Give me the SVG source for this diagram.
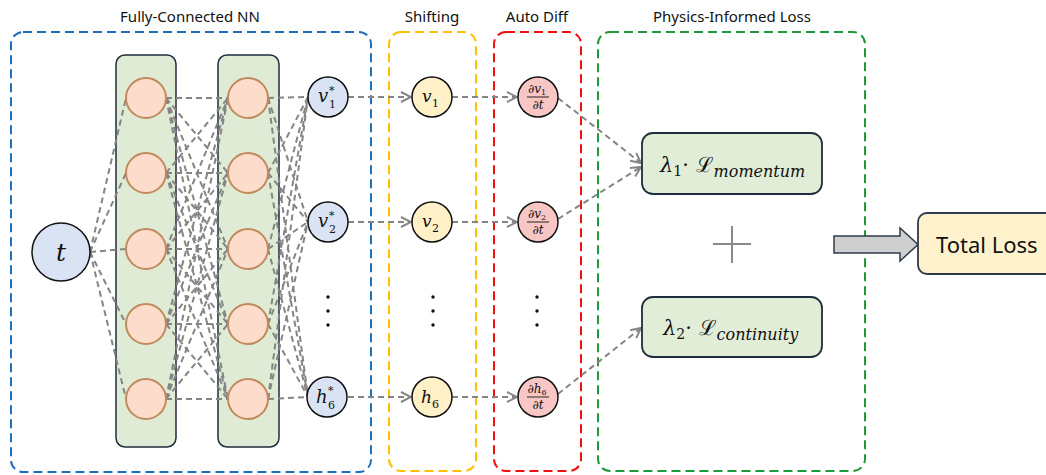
<svg xmlns="http://www.w3.org/2000/svg" width="1046" height="475" viewBox="0 0 1046 475">
<style>
.title{font-family:"Noto Sans","Open Sans",sans-serif;font-size:15px;fill:#111;text-anchor:middle}
.grp{fill:none;stroke-width:2;stroke-dasharray:9 5}
.col{fill:#E0EBD5;stroke:#1F2D3D;stroke-width:1.5}
.neu{fill:#FDDCCB;stroke:#C08A5C;stroke-width:2}
.bn{fill:#DAE3F3;stroke:#111;stroke-width:1.5}
.yn{fill:#FFF0C8;stroke:#111;stroke-width:1.5}
.pn{fill:#F8C6C4;stroke:#111;stroke-width:1.5}
.m{font-family:"DejaVu Serif","Liberation Serif",serif;font-style:italic;fill:#111}
.n{font-family:"DejaVu Serif","Liberation Serif",serif;font-style:normal;fill:#111}
.c line{stroke:#858585;stroke-width:2;stroke-dasharray:6 4;fill:none}
.a line{marker-end:url(#ah)}
.dot{fill:#111}
.lb{fill:#E2EDD8;stroke:#1F2D3D;stroke-width:1.8}
</style>
<defs>
<marker id="ah" viewBox="0 0 12 12" refX="11" refY="6" markerWidth="12" markerHeight="12" markerUnits="userSpaceOnUse" orient="auto">
<path d="M1,1 L11,6 L1,11" fill="none" stroke="#858585" stroke-width="2" stroke-dasharray="none"/>
</marker>
</defs>

<g id="group-fc">
<rect class="grp" x="11" y="32" width="360" height="440" rx="12" stroke="#1F6FBF"/>
<text class="title" x="190" y="22">Fully-Connected NN</text>
</g>
<g id="group-shift">
<rect class="grp" x="389" y="32" width="87" height="439" rx="12" stroke="#FFC000"/>
<text class="title" x="432" y="22">Shifting</text>
</g>
<g id="group-diff">
<rect class="grp" x="494" y="32" width="87" height="439" rx="12" stroke="#F01010"/>
<text class="title" x="537" y="22">Auto Diff</text>
</g>
<g id="group-loss">
<rect class="grp" x="598" y="32" width="267" height="439" rx="12" stroke="#1E9A3A"/>
<text class="title" x="732" y="22">Physics-Informed Loss</text>
</g>

<g id="layer1"><rect class="col" x="116" y="55" width="60" height="392" rx="9"/></g>
<g id="layer2"><rect class="col" x="218" y="55" width="61" height="392" rx="9"/></g>

<g id="connectors" class="c">
<g id="fc-lines">
<line x1="90" y1="252" x2="126" y2="98"/>
<line x1="90" y1="252" x2="126" y2="173"/>
<line x1="90" y1="252" x2="126" y2="249"/>
<line x1="90" y1="252" x2="126" y2="324"/>
<line x1="90" y1="252" x2="126" y2="399"/>

<line x1="166" y1="98" x2="228" y2="98"/>
<line x1="166" y1="98" x2="228" y2="173"/>
<line x1="166" y1="98" x2="228" y2="249"/>
<line x1="166" y1="98" x2="228" y2="324"/>
<line x1="166" y1="98" x2="228" y2="399"/>
<line x1="166" y1="173" x2="228" y2="98"/>
<line x1="166" y1="173" x2="228" y2="173"/>
<line x1="166" y1="173" x2="228" y2="249"/>
<line x1="166" y1="173" x2="228" y2="324"/>
<line x1="166" y1="173" x2="228" y2="399"/>
<line x1="166" y1="249" x2="228" y2="98"/>
<line x1="166" y1="249" x2="228" y2="173"/>
<line x1="166" y1="249" x2="228" y2="249"/>
<line x1="166" y1="249" x2="228" y2="324"/>
<line x1="166" y1="249" x2="228" y2="399"/>
<line x1="166" y1="324" x2="228" y2="98"/>
<line x1="166" y1="324" x2="228" y2="173"/>
<line x1="166" y1="324" x2="228" y2="249"/>
<line x1="166" y1="324" x2="228" y2="324"/>
<line x1="166" y1="324" x2="228" y2="399"/>
<line x1="166" y1="399" x2="228" y2="98"/>
<line x1="166" y1="399" x2="228" y2="173"/>
<line x1="166" y1="399" x2="228" y2="249"/>
<line x1="166" y1="399" x2="228" y2="324"/>
<line x1="166" y1="399" x2="228" y2="399"/>

<line x1="268" y1="98" x2="308" y2="97"/>
<line x1="268" y1="98" x2="308" y2="222"/>
<line x1="268" y1="98" x2="308" y2="397"/>
<line x1="268" y1="173" x2="308" y2="97"/>
<line x1="268" y1="173" x2="308" y2="222"/>
<line x1="268" y1="173" x2="308" y2="397"/>
<line x1="268" y1="249" x2="308" y2="97"/>
<line x1="268" y1="249" x2="308" y2="222"/>
<line x1="268" y1="249" x2="308" y2="397"/>
<line x1="268" y1="324" x2="308" y2="97"/>
<line x1="268" y1="324" x2="308" y2="222"/>
<line x1="268" y1="324" x2="308" y2="397"/>
<line x1="268" y1="399" x2="308" y2="97"/>
<line x1="268" y1="399" x2="308" y2="222"/>
<line x1="268" y1="399" x2="308" y2="397"/>
</g>
<g id="flow-arrows" class="a">
<line x1="348" y1="97" x2="411" y2="97"/>
<line x1="348" y1="222" x2="411" y2="222"/>
<line x1="348" y1="397" x2="411" y2="397"/>
<line x1="452" y1="97" x2="517" y2="97"/>
<line x1="452" y1="222" x2="517" y2="222"/>
<line x1="452" y1="397" x2="517" y2="397"/>
<line x1="558" y1="98" x2="641" y2="163"/>
<line x1="558" y1="219" x2="641" y2="167"/>
<line x1="558" y1="394" x2="641" y2="328"/>
</g>
</g>

<g id="node-t">
<circle class="bn" cx="61" cy="252" r="29"/>
<text class="m" x="61" y="261" font-size="25" text-anchor="middle">t</text>
</g>

<g id="neurons-1">
<circle class="neu" cx="146" cy="98" r="20"/>
<circle class="neu" cx="146" cy="173" r="20"/>
<circle class="neu" cx="146" cy="249" r="20"/>
<circle class="neu" cx="146" cy="324" r="20"/>
<circle class="neu" cx="146" cy="399" r="20"/>
</g>
<g id="neurons-2">
<circle class="neu" cx="248" cy="98" r="20"/>
<circle class="neu" cx="248" cy="173" r="20"/>
<circle class="neu" cx="248" cy="249" r="20"/>
<circle class="neu" cx="248" cy="324" r="20"/>
<circle class="neu" cx="248" cy="399" r="20"/>
</g>

<g id="node-v1s">
<circle class="bn" cx="328" cy="97" r="20"/>
<text class="m" x="318" y="102" font-size="18">v</text><text class="n" x="329" y="108" font-size="11">1</text><text class="n" x="329" y="94" font-size="11">*</text>
</g>
<g id="node-v2s">
<circle class="bn" cx="328" cy="222" r="20"/>
<text class="m" x="318" y="227" font-size="18">v</text><text class="n" x="329" y="233" font-size="11">2</text><text class="n" x="329" y="219" font-size="11">*</text>
</g>
<g id="node-h6s">
<circle class="bn" cx="327" cy="397" r="20"/>
<text class="m" x="316" y="403" font-size="18">h</text><text class="n" x="328" y="409" font-size="11">6</text><text class="n" x="328" y="394" font-size="11">*</text>
</g>

<g id="dots">
<circle class="dot" cx="328" cy="297" r="1.7"/><circle class="dot" cx="328" cy="311" r="1.7"/><circle class="dot" cx="328" cy="325" r="1.7"/>
<circle class="dot" cx="433" cy="297" r="1.7"/><circle class="dot" cx="433" cy="311" r="1.7"/><circle class="dot" cx="433" cy="325" r="1.7"/>
<circle class="dot" cx="537" cy="297" r="1.7"/><circle class="dot" cx="537" cy="311" r="1.7"/><circle class="dot" cx="537" cy="325" r="1.7"/>
</g>

<g id="node-v1">
<circle class="yn" cx="432" cy="97" r="20"/>
<text class="m" x="422" y="102" font-size="17">v</text><text class="n" x="432" y="107" font-size="11">1</text>
</g>
<g id="node-v2">
<circle class="yn" cx="432" cy="222" r="20"/>
<text class="m" x="422" y="227" font-size="17">v</text><text class="n" x="432" y="232" font-size="11">2</text>
</g>
<g id="node-h6">
<circle class="yn" cx="432" cy="397" r="20"/>
<text class="m" x="421" y="403" font-size="17">h</text><text class="n" x="432" y="408" font-size="11">6</text>
</g>

<g id="node-dv1">
<circle class="pn" cx="538" cy="97" r="20"/>
<text class="m" x="537" y="93" font-size="12" text-anchor="middle">∂v<tspan class="n" font-size="8" dy="2">1</tspan></text>
<line x1="527" y1="97" x2="549" y2="97" stroke="#111" stroke-width="0.9"/>
<text class="m" x="538" y="109" font-size="12" text-anchor="middle">∂t</text>
</g>
<g id="node-dv2">
<circle class="pn" cx="538" cy="222" r="20"/>
<text class="m" x="537" y="218" font-size="12" text-anchor="middle">∂v<tspan class="n" font-size="8" dy="2">2</tspan></text>
<line x1="527" y1="222" x2="549" y2="222" stroke="#111" stroke-width="0.9"/>
<text class="m" x="538" y="234" font-size="12" text-anchor="middle">∂t</text>
</g>
<g id="node-dh6">
<circle class="pn" cx="538" cy="397" r="20"/>
<text class="m" x="537" y="393" font-size="12" text-anchor="middle">∂h<tspan class="n" font-size="8" dy="2">6</tspan></text>
<line x1="527" y1="397" x2="549" y2="397" stroke="#111" stroke-width="0.9"/>
<text class="m" x="538" y="409" font-size="12" text-anchor="middle">∂t</text>
</g>

<g id="node-lm">
<rect class="lb" x="642" y="133" width="180" height="61" rx="11"/>
<text class="m" x="660" y="172" font-size="21">λ<tspan class="n" font-size="14" dy="4">1</tspan><tspan class="n" dy="-4">· ℒ</tspan><tspan class="m" font-size="16" dy="5">momentum</tspan></text>
</g>
<g id="node-lc">
<rect class="lb" x="642" y="297" width="180" height="60" rx="11"/>
<text class="m" x="663" y="335" font-size="21">λ<tspan class="n" font-size="14" dy="4">2</tspan><tspan class="n" dy="-4">· ℒ</tspan><tspan class="m" font-size="16" dy="5">continuity</tspan></text>
</g>
<g id="plus">
<line x1="713" y1="244" x2="751" y2="244" stroke="#8a8a8a" stroke-width="2"/>
<line x1="732" y1="226" x2="732" y2="263" stroke="#8a8a8a" stroke-width="2"/>
</g>

<g id="big-arrow">
<path d="M834,236 L900,236 L900,228 L918,244.5 L900,261 L900,253 L834,253 Z" fill="#CFCFCF" stroke="#2F3B4A" stroke-width="1.5"/>
</g>
<g id="node-total">
<rect x="918" y="213" width="140" height="61" rx="9" fill="#FFF2CC" stroke="#2F3B4A" stroke-width="1.8"/>
<text x="936" y="253" font-family="Noto Sans,Open Sans,sans-serif" font-size="22" fill="#111">Total Loss</text>
</g>
</svg>
